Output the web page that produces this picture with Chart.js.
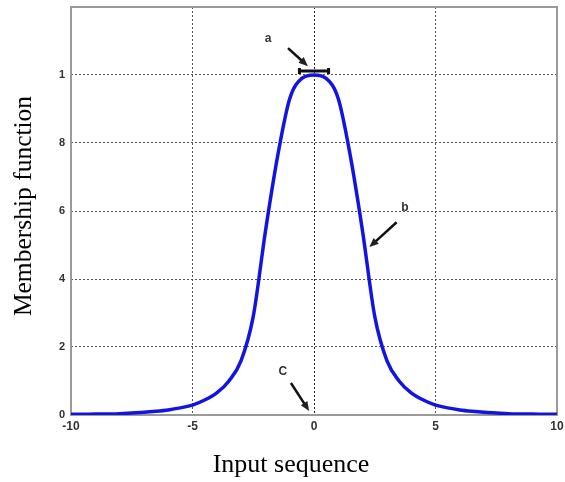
<!DOCTYPE html>
<html>
<head>
<meta charset="utf-8">
<script src="https://cdn.jsdelivr.net/npm/chart.js@4.4.1/dist/chart.umd.min.js"></script>
<style>
  html, body { margin: 0; padding: 0; background: #fff; }
  #wrap { width: 565px; height: 482px; }
</style>
</head>
<body>
<div id="wrap"><canvas id="chart"></canvas></div>
<script>
// input sequence (x) and the bell membership values
const inputSeq = [-10, -9.5, -9, -8.5, -8, -7.5, -7, -6.5, -6, -5.5, -5, -4.5, -4, -3.5, -3, -2.5, -2, -1.5, -1, -0.5,
                  0, 0.5, 1, 1.5, 2, 2.5, 3, 3.5, 4, 4.5, 5, 5.5, 6, 6.5, 7, 7.5, 8, 8.5, 9, 9.5, 10];
const membership = [0.002, 0.002, 0.003, 0.003, 0.004, 0.006, 0.008, 0.011, 0.015, 0.021, 0.029, 0.044, 0.065, 0.100, 0.160, 0.290, 0.540, 0.760, 0.930, 0.990,
                    1.000, 0.990, 0.930, 0.760, 0.540, 0.290, 0.160, 0.100, 0.065, 0.044, 0.029, 0.021, 0.015, 0.011, 0.008, 0.006, 0.004, 0.003, 0.003, 0.002, 0.002];

const xTicks = [-10, -5, 0, 5, 10];
const yTicks = [0, 0.2, 0.4, 0.6, 0.8, 1];
const yTickText = ['0', '2', '4', '6', '8', '1'];

// annotation labels and arrows (data units)
const noteLabels = [
  { text: 'a', x: -1.89, y: 1.106 },
  { text: 'b', x: 3.74, y: 0.611 },
  { text: 'C', x: -1.28, y: 0.126 }
];
const noteArrows = [
  { x0: -1.07, y0: 1.079, x1: -0.25, y1: 1.026 },
  { x0: 3.40, y0: 0.567, x1: 2.28, y1: 0.494 },
  { x0: -0.95, y0: 0.094, x1: -0.2, y1: 0.012 }
];
const widthBar = { x0: -0.6, x1: 0.6, y: 1.012 };

function arrow(ctx, ax, ay, bx, by) {
  const ang = Math.atan2(by - ay, bx - ax);
  const head = 10;
  ctx.beginPath();
  ctx.moveTo(ax, ay);
  ctx.lineTo(bx - Math.cos(ang) * head * 0.7, by - Math.sin(ang) * head * 0.7);
  ctx.stroke();
  ctx.beginPath();
  ctx.moveTo(bx, by);
  ctx.lineTo(bx - head * Math.cos(ang - 0.4), by - head * Math.sin(ang - 0.4));
  ctx.lineTo(bx - head * Math.cos(ang + 0.4), by - head * Math.sin(ang + 0.4));
  ctx.closePath();
  ctx.fill();
}

const extras = {
  id: 'extras',
  beforeDatasetsDraw(chart) {
    const { ctx, chartArea: a } = chart;
    ctx.save();
    ctx.strokeStyle = '#9a9a9a';
    ctx.lineWidth = 2;
    ctx.strokeRect(a.left, a.top, a.right - a.left, a.bottom - a.top);
    ctx.restore();
  },
  afterDatasetsDraw(chart) {
    const { ctx } = chart;
    const xs = chart.scales.x, ys = chart.scales.y;
    ctx.save();
    ctx.fillStyle = '#222';
    ctx.strokeStyle = '#111';
    ctx.lineWidth = 2.5;
    noteArrows.forEach(n => arrow(ctx, xs.getPixelForValue(n.x0), ys.getPixelForValue(n.y0),
                                       xs.getPixelForValue(n.x1), ys.getPixelForValue(n.y1)));
    // width bar "a"
    const bx0 = xs.getPixelForValue(widthBar.x0), bx1 = xs.getPixelForValue(widthBar.x1);
    const by = ys.getPixelForValue(widthBar.y);
    ctx.lineWidth = 3;
    ctx.beginPath();
    ctx.moveTo(bx0, by); ctx.lineTo(bx1, by);
    ctx.moveTo(bx0, by - 3); ctx.lineTo(bx0, by + 3);
    ctx.moveTo(bx1, by - 3); ctx.lineTo(bx1, by + 3);
    ctx.stroke();

    ctx.font = 'bold 12px "Liberation Sans", Arial, sans-serif';
    ctx.fillStyle = '#333';
    ctx.textAlign = 'center';
    ctx.textBaseline = 'middle';
    noteLabels.forEach(n => ctx.fillText(n.text, xs.getPixelForValue(n.x), ys.getPixelForValue(n.y)));

    // axis titles
    ctx.fillStyle = '#000';
    ctx.font = '26px "Liberation Serif", "Times New Roman", serif';
    ctx.fillText('Input sequence', 291, 465);
    ctx.font = '25.5px "Liberation Serif", "Times New Roman", serif';
    ctx.translate(24, 206);
    ctx.rotate(-Math.PI / 2);
    ctx.fillText('Membership function', 0, 0);
    ctx.restore();
  }
};

new Chart(document.getElementById('chart'), {
  type: 'line',
  data: {
    datasets: [{
      data: inputSeq.map((x, i) => ({ x: x, y: membership[i] })),
      borderColor: '#1414e0',
      borderWidth: 3.5,
      pointRadius: 0,
      cubicInterpolationMode: 'monotone',
      fill: false
    }]
  },
  options: {
    responsive: true,
    maintainAspectRatio: false,
    animation: false,
    layout: { padding: { top: 7, right: 8, left: 0, bottom: 0 } },
    plugins: { legend: { display: false }, tooltip: { enabled: false } },
    scales: {
      x: {
        type: 'linear', min: -10, max: 10,
        afterBuildTicks: s => { s.ticks = xTicks.map(v => ({ value: v })); },
        afterFit: s => { s.height = 67; s.paddingLeft = 0; s.paddingRight = 0; },
        ticks: {
          padding: 4, maxRotation: 0, autoSkip: false,
          color: '#333',
          font: { family: '"Liberation Sans", Arial, sans-serif', size: 12, weight: 'bold' },
          callback: v => String(v)
        },
        grid: {
          drawTicks: false,
          lineWidth: 1,
          color: c => (c.tick && (c.tick.value === -10 || c.tick.value === 10)) ? 'rgba(0,0,0,0)'
                     : (c.tick && c.tick.value === 0 ? '#222' : '#555'),
          borderDash: [2, 2]
        },
        border: { display: false, dash: [2, 2] }
      },
      y: {
        min: 0, max: 1.2,
        afterBuildTicks: s => { s.ticks = yTicks.map(v => ({ value: v })); },
        afterFit: s => { s.width = 71; s.paddingTop = 0; s.paddingBottom = 0; },
        ticks: {
          padding: 6, autoSkip: false,
          color: '#333',
          font: { family: '"Liberation Sans", Arial, sans-serif', size: 11, weight: 'bold' },
          callback: (v, i) => yTickText[i]
        },
        grid: {
          drawTicks: false,
          lineWidth: 1,
          color: c => (c.tick && c.tick.value === 0) ? 'rgba(0,0,0,0)' : '#555',
          borderDash: [2, 2]
        },
        border: { display: false, dash: [2, 2] }
      }
    }
  },
  plugins: [extras]
});
</script>
</body>
</html>
